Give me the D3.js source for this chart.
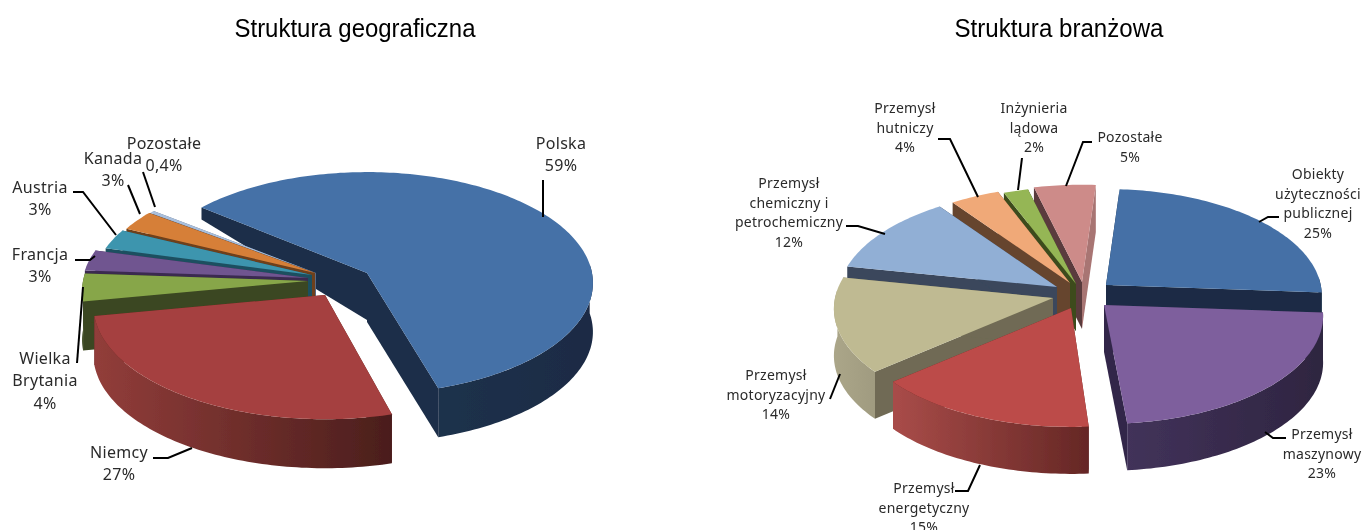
<!DOCTYPE html>
<html>
<head>
<meta charset="utf-8">
<script src="https://cdn.jsdelivr.net/npm/d3@7"></script>
<style>
html, body { margin: 0; padding: 0; background: #fff; }
svg { display: block; }
</style>
</head>
<body>
<div id="chart"></div>
<script>
// values
const geoCategories = ['Polska', 'Niemcy', 'Wielka\nBrytania', 'Francja', 'Austria', 'Kanada', 'Pozostałe'];
const geoValues = [59, 27, 4, 3, 3, 3, 0.4];

const branchCategories = ['Obiekty\nużyteczności\npublicznej', 'Przemysł\nmaszynowy', 'Przemysł\nenergetyczny',
	'Przemysł\nmotoryzacyjny', 'Przemysł\nchemiczny i\npetrochemiczny', 'Przemysł\nhutniczy', 'Inżynieria\nlądowa', 'Pozostałe'];
const branchValues = [25, 23, 15, 14, 12, 4, 2, 5];

const titles = ['Struktura geograficzna', 'Struktura branżowa'];

// layout of the two fake-3d pies. apex = where each slice tip lands (the explosion)
// nudge = small degree corrections per slice, rScale = per slice radius correction
const geoPie = {
	prefix: 'g', categories: geoCategories, values: geoValues,
	start: -52, R: 225, Ry: 110, p: 0.09, depth: 49, fontSize: 16, spacing: 0.3, lineGap: 22.5,
	order: [0, 6, 5, 4, 3, 2, 1],
	apex: [[367, 273], [325, 295], [308, 281], [308, 278], [312, 275], [315, 273], [316, 273]],
	nudge: { 0: [1, 1.5], 1: [3, 0] },
	rScale: { 1: 1.025, 4: 0.97, 5: 0.965, 6: 0.965 },
	top: ['#4571a7', '#a5413f', '#87a64a', '#6f5490', '#3e95ae', '#d67f38', '#a9bfdc'],
	face: ['#1b2e48', '#5c2322', '#3b4720', '#3a2a50', '#1f5060', '#6e3f1a', '#5a6b85'],
	rim: [['#1d314c', '#1a2b44'], ['#923d3a', '#4a1e1c'], ['#3b4720', '#3b4720'], ['#3a2a50', '#3a2a50'], ['#1f5060', '#1f5060'], ['#6e3f1a', '#6e3f1a'], ['#5a6b85', '#5a6b85']],
	startDepth: { 0: [47, 12] },
	labels: [[561, 143], [119, 452], [45, 358], [40, 254], [40, 187], [113, 158], [164, 143]],
	leaders: [
		[[543, 180], [543, 217]],
		[[153, 458], [168, 458], [192, 448]],
		[[77, 363], [83, 287]],
		[[75, 260], [90, 260], [95, 256]],
		[[73, 192], [83, 192], [116, 235]],
		[[128, 185], [140, 214]],
		[[143, 172], [155, 207]]
	]
};

const branchPie = {
	prefix: 'b', categories: branchCategories, values: branchValues,
	start: 4, R: 218, Ry: 107, p: 0.1, depth: 47, fontSize: 14, spacing: 0.25, lineGap: 19.5,
	order: [7, 6, 5, 4, 3, 0, 1, 2],
	apex: [[1106, 285], [1104, 305], [1071, 308], [1053, 298], [1057, 287], [1070, 283], [1076, 284], [1082, 282]],
	nudge: { 1: [0, -2.3], 2: [-1, -1], 3: [-1, 0] },
	rScale: { 0: 0.985 },
	top: ['#4470a6', '#7e5f9d', '#bc4c49', '#bfba92', '#91afd5', '#f0a978', '#95b654', '#cd8b89'],
	face: ['#1a2c45', '#33284a', '#652826', '#6f6b54', '#3a475c', '#66452f', '#3c4c1e', '#5a3a3c'],
	faceEnd: { 7: '#a87473' },
	rim: [['#1a2c45', '#1a2c45'], ['#42325a', '#2e2540'], ['#a94c49', '#652725'], ['#aba689', '#a09b80'], ['#3a475c', '#3a475c'], ['#66452f', '#66452f'], ['#3c4c1e', '#3c4c1e'], ['#a87473', '#a87473']],
	startDepth: {},
	labels: [[1318, 174], [1322, 434], [924, 488], [776, 375], [789, 183], [905, 108], [1034, 108], [1130, 137]],
	leaders: [
		[[1259, 222], [1268, 217], [1279, 217]],
		[[1286, 438], [1273, 438], [1265, 432]],
		[[955, 491], [968, 491], [980, 465]],
		[[830, 399], [840, 374]],
		[[846, 226], [858, 226], [885, 234]],
		[[938, 139], [950, 139], [978, 197]],
		[[1022, 158], [1018, 190]],
		[[1092, 142], [1083, 142], [1066, 186]]
	]
};

const width = 1364, height = 530;
const svg = d3.select('#chart').append('svg').attr('width', width).attr('height', height);
const defs = svg.append('defs');
defs.append('filter').attr('id', 'soft').append('feGaussianBlur').attr('stdDeviation', 0.45);
defs.append('filter').attr('id', 'softText').append('feGaussianBlur').attr('stdDeviation', 0.3);

const line = d3.line();
const fmt = v => String(v).replace('.', ',') + '%';
const rad = Math.PI / 180;

function drawPie(cfg) {
	const pie = d3.pie().value(d => d).sort(null)
		.startAngle(cfg.start * rad)
		.endAngle((cfg.start + 360) * rad);
	const slices = pie(cfg.values);
	const g = svg.append('g').attr('filter', 'url(#soft)');

	// disc position -> picture position, simple perspective towards the viewer
	function project(apex, a, rr, drop) {
		const u = Math.sin(a) * rr, v = -Math.cos(a) * rr;
		const w = 1 - cfg.p * v;
		return [apex[0] + cfg.R * u / w, apex[1] + cfg.Ry * v / w + (drop || 0)];
	}
	function arcPoints(apex, a0, a1, rr, drop) {
		const n = Math.max(2, Math.ceil((a1 - a0) / 0.02));
		return d3.range(n + 1).map(i => project(apex, a0 + (a1 - a0) * i / n, rr, drop));
	}

	cfg.order.forEach(i => {
		const s = slices[i], apex = cfg.apex[i];
		const nudge = cfg.nudge[i] || [0, 0];
		const rr = cfg.rScale[i] || 1;
		const a0 = s.startAngle + nudge[0] * rad, a1 = s.endAngle + nudge[1] * rad;

		// the two cut faces
		const sd = cfg.startDepth[i] || [cfg.depth, cfg.depth];
		g.append('path')
			.attr('d', line([apex, project(apex, a0, rr), project(apex, a0, rr, sd[1]), [apex[0], apex[1] + sd[0]]]) + 'Z')
			.attr('fill', cfg.face[i]);
		g.append('path')
			.attr('d', line([apex, project(apex, a1, rr), project(apex, a1, rr, cfg.depth), [apex[0], apex[1] + cfg.depth]]) + 'Z')
			.attr('fill', (cfg.faceEnd && cfg.faceEnd[i]) || cfg.face[i]);

		// outer rim, only the part turned to the viewer (v > -0.08)
		const lim = Math.acos(0.08);
		let lo = null, hi = null;
		for (let k = -1; k <= 1; k++) {
			const b0 = Math.max(a0, lim + k * 2 * Math.PI), b1 = Math.min(a1, 2 * Math.PI - lim + k * 2 * Math.PI);
			if (b1 > b0) { lo = b0; hi = b1; }
		}
		if (lo !== null) {
			const id = cfg.prefix + 'rim' + i;
			const grad = defs.append('linearGradient').attr('id', id);
			grad.append('stop').attr('offset', '0%').attr('stop-color', cfg.rim[i][0]);
			grad.append('stop').attr('offset', '100%').attr('stop-color', cfg.rim[i][1]);
			const upper = arcPoints(apex, lo, hi, rr, 0);
			const lower = arcPoints(apex, lo, hi, rr, cfg.depth).reverse();
			g.append('path').attr('d', line(upper.concat(lower)) + 'Z').attr('fill', 'url(#' + id + ')');
		}

		// top of the slice
		g.append('path')
			.attr('d', line([apex].concat(arcPoints(apex, a0, a1, rr, 0))) + 'Z')
			.attr('fill', cfg.top[i]);
	});

	// leader lines
	svg.append('g').attr('filter', 'url(#softText)').selectAll('path').data(cfg.leaders).join('path')
		.attr('d', d => line(d))
		.attr('fill', 'none').attr('stroke', '#000').attr('stroke-width', 2);

	// labels
	const labelGroup = svg.append('g').attr('filter', 'url(#softText)');
	cfg.categories.forEach((c, i) => {
		const lines = c.split('\n').concat([fmt(cfg.values[i])]);
		const t = labelGroup.append('text')
			.attr('text-anchor', 'middle')
			.attr('font-family', '"Noto Sans", sans-serif')
			.attr('font-size', cfg.fontSize)
			.attr('letter-spacing', cfg.spacing)
			.attr('fill', '#2a2a2a');
		lines.forEach((l, j) => {
			t.append('tspan').attr('x', cfg.labels[i][0]).attr('y', cfg.labels[i][1] + j * cfg.lineGap + cfg.fontSize * 0.36).text(l);
		});
	});
}

drawPie(geoPie);
drawPie(branchPie);

// chart titles
svg.append('g').attr('filter', 'url(#softText)').selectAll('text').data(titles).join('text')
	.attr('x', (d, i) => [355, 1059][i])
	.attr('y', 37)
	.attr('text-anchor', 'middle')
	.attr('font-family', '"Liberation Sans", Arial, sans-serif')
	.attr('font-size', 25)
	.attr('textLength', (d, i) => [241, 209][i])
	.attr('lengthAdjust', 'spacingAndGlyphs')
	.attr('fill', '#000')
	.text(d => d);
</script>
</body>
</html>
